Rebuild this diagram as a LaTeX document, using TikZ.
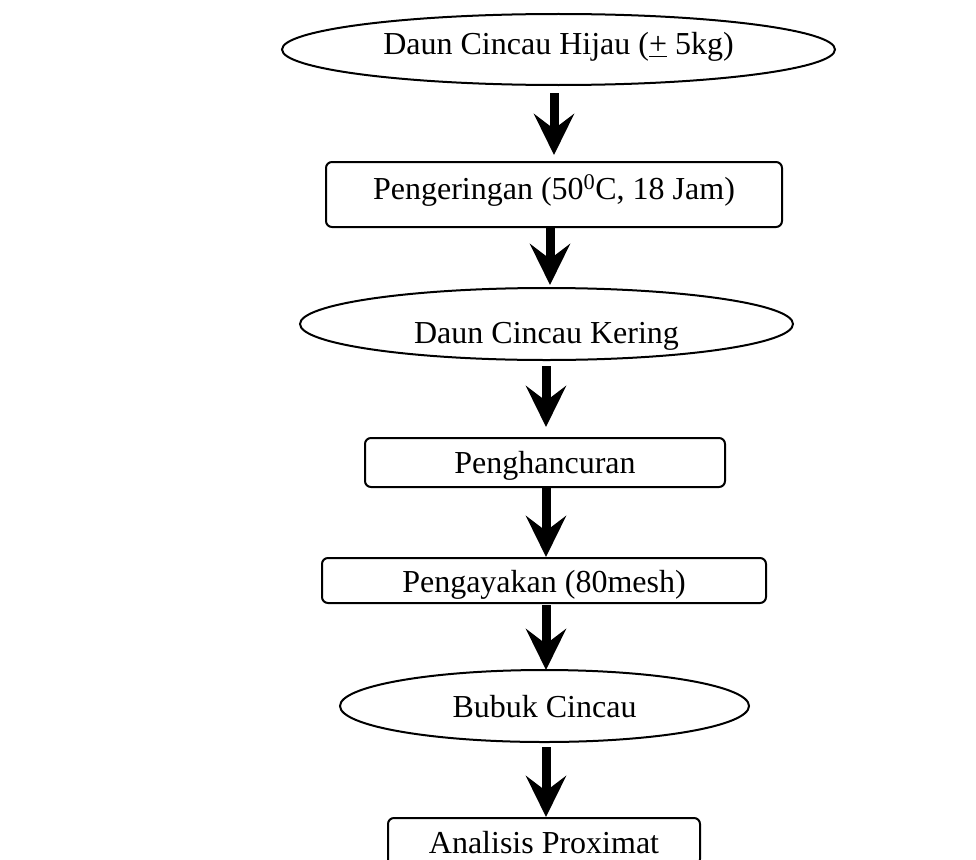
\documentclass[tikz,border=0pt]{standalone}
\usepackage{fontspec}
\setmainfont{Liberation Serif}
\usetikzlibrary{shapes.geometric,arrows.meta}

\tikzset{
  base/.style={draw=black, line width=2pt, inner sep=0pt, outer sep=0pt,
    font=\fontsize{32}{38}\selectfont, align=center, text depth=0pt},
  oval/.style={base, ellipse},
  stepbox/.style={base, rectangle, rounded corners=6pt},
  flow/.style={line width=9pt,
    -{Stealth[length=41pt, width=40pt, inset=15pt]}}
}

\begin{document}
\begin{tikzpicture}[x=1pt, y=-1pt]
  \useasboundingbox[fill=white] (0,0) rectangle (976,859);

  % process stages (text height sets the baseline inside each shape)
  \node[oval, minimum width=553pt, minimum height=71pt, text height=10pt]
    (e1) at (558.5,49.5) {Daun Cincau Hijau (\underline{+} 5kg)};
  \node[stepbox, minimum width=456pt, minimum height=65pt, text height=9pt]
    (r1) at (554,194.5) {Pengeringan (50\textsuperscript{0}C, 18 Jam)};
  \node[oval, minimum width=493pt, minimum height=72pt, text height=38pt]
    (e2) at (546.5,324) {Daun Cincau Kering};
  \node[stepbox, minimum width=360pt, minimum height=49pt, text height=21pt]
    (r2) at (545,462.5) {Penghancuran};
  \node[stepbox, minimum width=444pt, minimum height=45pt, text height=23pt]
    (r3) at (544,580.5) {Pengayakan (80mesh)};
  \node[oval, minimum width=409pt, minimum height=72pt, text height=22pt]
    (e3) at (544.5,706) {Bubuk Cincau};
  \node[stepbox, minimum width=312pt, minimum height=47pt, text height=23pt]
    (r4) at (544,841.5) {Analisis Proximat};

  % flow arrows
  \draw[flow] ([xshift=-4.5pt,yshift=-8pt]e1.south) -- ([yshift=7pt]r1.north);
  \draw[flow] ([xshift=-4pt]r1.south) -- ([xshift=3.5pt,yshift=3pt]e2.north);
  \draw[flow] ([xshift=-0.5pt,yshift=-6pt]e2.south) -- ([xshift=1pt,yshift=11pt]r2.north);
  \draw[flow] ([xshift=1pt]r2.south) -- ([xshift=2pt,yshift=1pt]r3.north);
  \draw[flow] ([xshift=2pt,yshift=-2pt]r3.south) -- ([xshift=1.5pt]e3.north);
  \draw[flow] ([xshift=1.5pt,yshift=-5pt]e3.south) -- ([xshift=2pt,yshift=1pt]r4.north);
\end{tikzpicture}
\end{document}
